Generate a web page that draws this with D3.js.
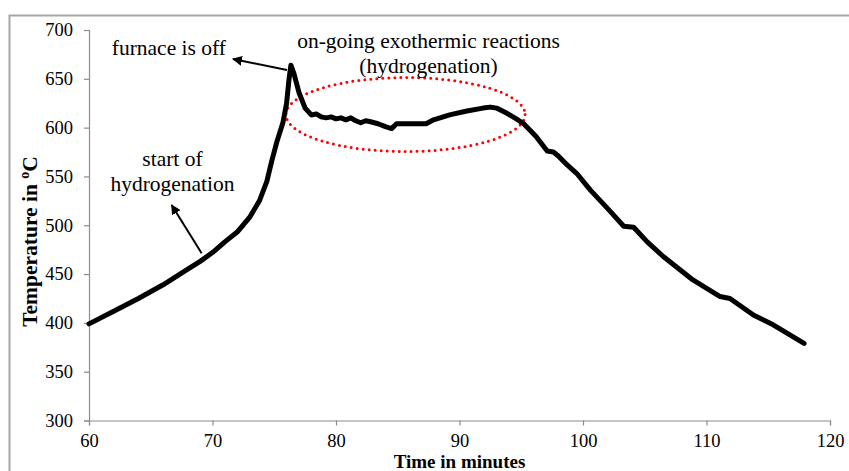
<!DOCTYPE html>
<html><head><meta charset="utf-8">
<script src="https://cdn.jsdelivr.net/npm/d3@7"></script>
<style>
html,body{margin:0;padding:0;background:#fff;}
svg{display:block;}
</style></head>
<body>
<svg id="chart" width="849" height="471" font-family="'Liberation Serif', 'Times New Roman', serif"></svg>
<script>
// ---- data ----
const timeMin = [60,62,64,66,68,69,70,71,72,73,73.8,74.4,74.8,75.2,75.7,76.0,76.2,76.35,76.6,77.0,77.5,78.0,78.4,78.8,79.2,79.6,80.0,80.4,80.8,81.2,81.6,82.0,82.4,82.8,83.4,84.0,84.5,84.9,87.3,87.9,89.2,90.6,91.9,92.5,93.0,93.8,94.6,95.2,96.2,97.1,97.6,98.0,98.7,99.5,100.6,102,103.3,104.1,105.2,106.5,108.9,111.1,111.9,113.8,115.4,117.9];
const tempC   = [399,412,425,439,455,463,472,483,493,508,525,545,566,585,605,625,650,664,655,636,620,613,614,611,610,611,609,610,608,610,607,605,607,606,604,601,599,604,604,608,613,617,620,621,620,615,609,604,591,576,575,571,562,553,536,517,499,498,483,468,444,427,425,408,398,379];
const xTicks = [60,70,80,90,100,110,120];
const yTicks = [300,350,400,450,500,550,600,650,700];
const xTitle = "Time in minutes";
const yTitle = "Temperature in ";
const notes = [
  {lines:["furnace is off"], x:71.09, y:674.4, anchor:"end"},
  {lines:["on-going exothermic reactions","(hydrogenation)"], x:87.49, y:681.5, anchor:"middle"},
  {lines:["start of","hydrogenation"], x:66.76, y:560.2, anchor:"middle"}
];

// ---- chart ----
const FONT = "'Liberation Serif', 'Times New Roman', serif";
const svg = d3.select("#chart");
const x = d3.scaleLinear().domain([60,120]).range([89,830]);
const y = d3.scaleLinear().domain([300,700]).range([420.5,30]);
const axisColor = "#8c8c8c";

// outer border
svg.append("rect").attr("x",9.5).attr("y",15.5).attr("width",900).attr("height",500)
  .attr("fill","none").attr("stroke","#a6a6a6").attr("stroke-width",2);

// axes
const gx = svg.append("g").attr("transform",`translate(0,${y(300)})`)
  .call(d3.axisBottom(x).tickValues(xTicks).tickSize(5).tickPadding(8).tickFormat(d3.format("d")));
const gy = svg.append("g").attr("transform",`translate(${x(60)},0)`)
  .call(d3.axisLeft(y).tickValues(yTicks).tickSize(5).tickPadding(11).tickFormat(d3.format("d")));
[gx,gy].forEach(g=>{
  g.attr("font-family",FONT);
  g.select(".domain").attr("stroke",axisColor).attr("stroke-width",1.2);
  g.selectAll(".tick line").attr("stroke",axisColor).attr("stroke-width",1.2);
  g.selectAll(".tick text").attr("font-family",FONT).attr("font-size",18.5).attr("fill","#000");
});
gx.selectAll(".tick text").attr("dy","0.71em");

// axis titles
svg.append("text").attr("x",(x(60)+x(120))/2).attr("y",467.5).attr("text-anchor","middle")
  .attr("font-family",FONT).attr("font-weight","bold").attr("font-size",19).text(xTitle);
const yt = svg.append("text").attr("transform",`translate(37,241.5) rotate(-90)`)
  .attr("font-family",FONT).attr("text-anchor","middle").attr("font-weight","bold").attr("font-size",21.5);
yt.append("tspan").text(yTitle);
yt.append("tspan").attr("dy",-8).attr("font-size",14).text("o");
yt.append("tspan").attr("dy",8).text("C");

// ellipse (dotted red)
svg.append("ellipse").attr("cx",x(85.63)).attr("cy",y(613.4))
  .attr("rx",x(85.63+9.68)-x(85.63)).attr("ry",y(613.4)-y(613.4+37.9))
  .attr("fill","none").attr("stroke","#ff0000").attr("stroke-width",3)
  .attr("stroke-dasharray","0 6").attr("stroke-linecap","round");

// data line
const pts = timeMin.map((t,i)=>[t,tempC[i]]);
svg.append("path").datum(pts)
  .attr("d",d3.line().x(d=>x(d[0])).y(d=>y(d[1])).curve(d3.curveLinear))
  .attr("fill","none").attr("stroke","#000").attr("stroke-width",5)
  .attr("stroke-linejoin","round").attr("stroke-linecap","round");

// arrows
svg.append("defs").append("marker").attr("id","ah").attr("viewBox","0 0 10 10")
  .attr("refX",9).attr("refY",5).attr("markerWidth",5).attr("markerHeight",5)
  .attr("orient","auto").attr("markerUnits","strokeWidth")
  .append("path").attr("d","M0,0 L10,5 L0,10 Z").attr("fill","#000");
const arrows = [
  {from:[76.03,659], to:[71.66,670.3]},
  {from:[69.12,471.3], to:[66.69,520.7]}
];
arrows.forEach(a=>{
  svg.append("line").attr("x1",x(a.from[0])).attr("y1",y(a.from[1]))
    .attr("x2",x(a.to[0])).attr("y2",y(a.to[1]))
    .attr("stroke","#000").attr("stroke-width",2).attr("marker-end","url(#ah)");
});

// annotations
notes.forEach(n=>{
  n.lines.forEach((l,i)=>{
    svg.append("text").attr("x",x(n.x)).attr("y",y(n.y)+i*25).attr("text-anchor",n.anchor)
      .attr("font-family",FONT).attr("font-size",21.5).text(l);
  });
});
</script>
</body></html>
